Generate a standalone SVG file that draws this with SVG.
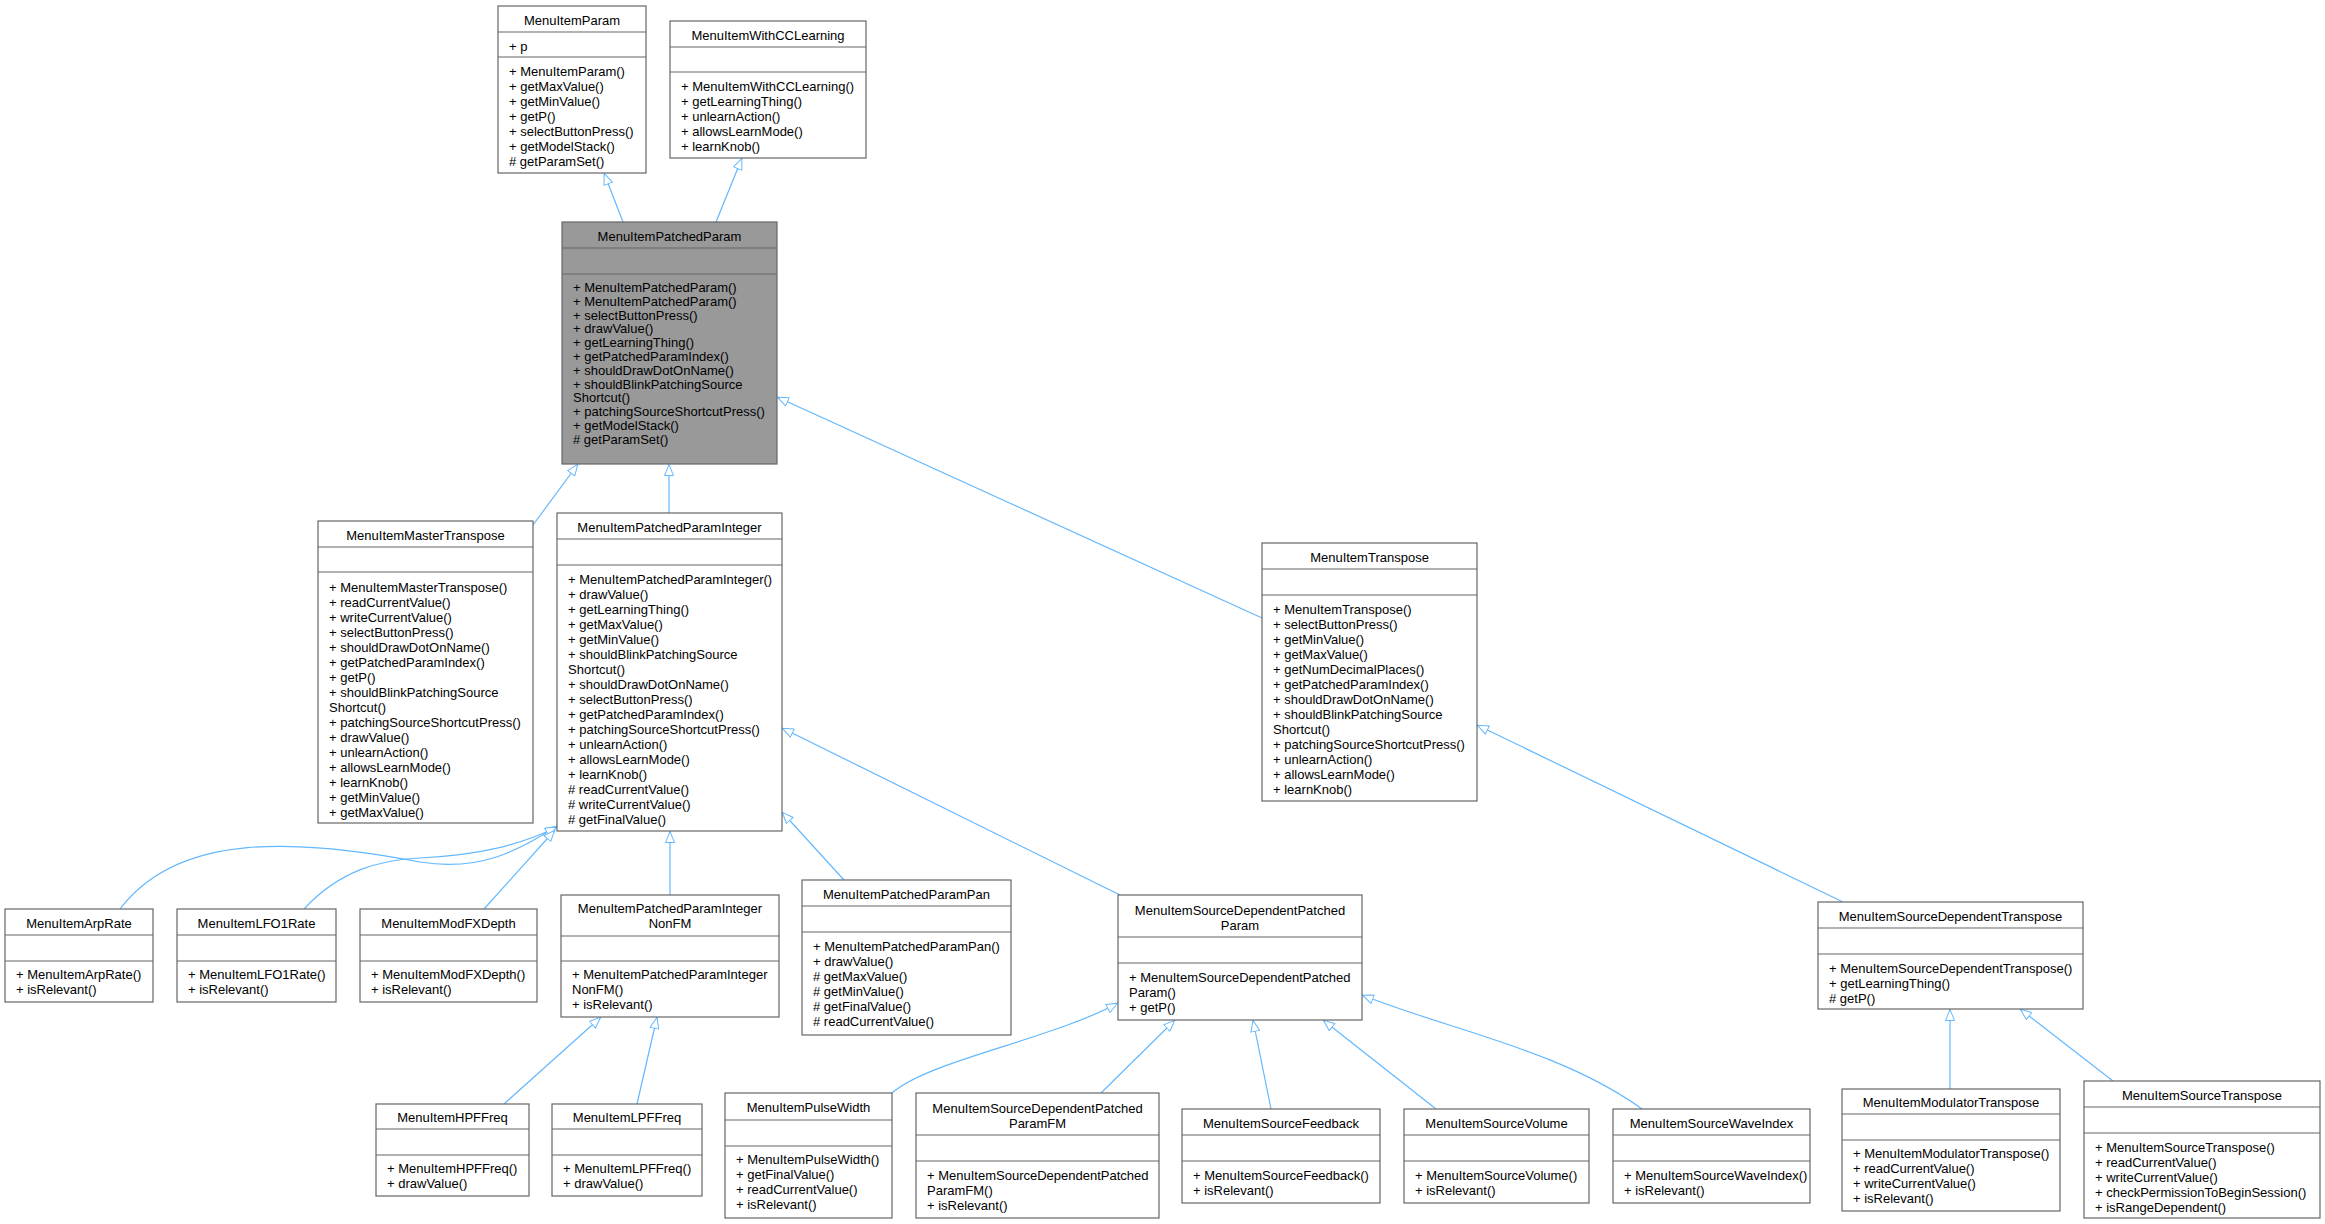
<svg xmlns="http://www.w3.org/2000/svg" width="2325" height="1224" viewBox="0 0 2325 1224">
<style>
text{font-family:"Liberation Sans",Arial,sans-serif;font-size:13px;fill:#000}
.h{text-anchor:middle}
.b{fill:#fff;stroke:#666;stroke-width:1.2}
.g{fill:#999;stroke:#666;stroke-width:1.2}
.l{stroke:#666;stroke-width:1.2}
.e{fill:none;stroke:#63b8ff;stroke-width:1.2;marker-end:url(#a)}
</style>
<defs>
<marker id="a" viewBox="0 0 12 10" refX="12" refY="5" markerWidth="12" markerHeight="10" markerUnits="userSpaceOnUse" orient="auto">
<path d="M0.5,0.5 L11.5,5 L0.5,9.5 Z" fill="#fff" stroke="#63b8ff" stroke-width="1"/>
</marker>
</defs>
<rect width="2325" height="1224" fill="#fff"/>
<g id="connectors">
<path class="e" d="M623,222 L604,173"/>
<path class="e" d="M716,222 L742,158"/>
<path class="e" d="M533,525 L578,464"/>
<path class="e" d="M669,513 L669,464"/>
<path class="e" d="M1262,618 L777,397"/>
<path class="e" d="M120,909 C180,830 300,840 420,862 C480,872 520,850 557,826"/>
<path class="e" d="M304,909 C340,870 380,860 420,858 C480,855 520,845 557,827"/>
<path class="e" d="M484,909 L555,830"/>
<path class="e" d="M670,895 L670,831"/>
<path class="e" d="M844,880 L782,812"/>
<path class="e" d="M1120,895 L782,728"/>
<path class="e" d="M1843,902 L1477,725"/>
<path class="e" d="M504,1104 L601,1017"/>
<path class="e" d="M637,1104 L657,1017"/>
<path class="e" d="M892,1093 C930,1060 1050,1040 1118,1003"/>
<path class="e" d="M1101,1093 L1175,1020"/>
<path class="e" d="M1271,1109 L1253,1020"/>
<path class="e" d="M1436,1109 L1323,1020"/>
<path class="e" d="M1642,1109 C1560,1050 1450,1030 1362,995"/>
<path class="e" d="M1950,1089 L1950,1009"/>
<path class="e" d="M2113,1081 L2020,1009"/>
</g>
<g id="MenuItemParam">
<rect class="b" x="498" y="6" width="148" height="167"/>
<line class="l" x1="498" y1="32" x2="646" y2="32"/><line class="l" x1="498" y1="57" x2="646" y2="57"/>
<text class="h" x="572" y="25">MenuItemParam</text>
<text x="509" y="51">+ p</text>
<text x="509" y="76">+ MenuItemParam()</text><text x="509" y="91">+ getMaxValue()</text><text x="509" y="106">+ getMinValue()</text><text x="509" y="121">+ getP()</text><text x="509" y="136">+ selectButtonPress()</text><text x="509" y="151">+ getModelStack()</text><text x="509" y="166"># getParamSet()</text>
</g>
<g id="MenuItemWithCCLearning">
<rect class="b" x="670" y="21" width="196" height="137"/>
<line class="l" x1="670" y1="47" x2="866" y2="47"/><line class="l" x1="670" y1="72" x2="866" y2="72"/>
<text class="h" x="768" y="40">MenuItemWithCCLearning</text>
<text x="681" y="91">+ MenuItemWithCCLearning()</text><text x="681" y="106">+ getLearningThing()</text><text x="681" y="121">+ unlearnAction()</text><text x="681" y="136">+ allowsLearnMode()</text><text x="681" y="151">+ learnKnob()</text>
</g>
<g id="MenuItemPatchedParam">
<rect class="g" x="562" y="222" width="215" height="242"/>
<line class="l" x1="562" y1="248" x2="777" y2="248"/><line class="l" x1="562" y1="274" x2="777" y2="274"/>
<text class="h" x="669.5" y="241">MenuItemPatchedParam</text>
<text x="573" y="292">+ MenuItemPatchedParam()</text><text x="573" y="305.8">+ MenuItemPatchedParam()</text><text x="573" y="319.6">+ selectButtonPress()</text><text x="573" y="333.4">+ drawValue()</text><text x="573" y="347.2">+ getLearningThing()</text><text x="573" y="361">+ getPatchedParamIndex()</text><text x="573" y="374.8">+ shouldDrawDotOnName()</text><text x="573" y="388.6">+ shouldBlinkPatchingSource</text><text x="573" y="402.4">Shortcut()</text><text x="573" y="416.2">+ patchingSourceShortcutPress()</text><text x="573" y="430">+ getModelStack()</text><text x="573" y="443.8"># getParamSet()</text>
</g>
<g id="MenuItemMasterTranspose">
<rect class="b" x="318" y="521" width="215" height="302"/>
<line class="l" x1="318" y1="547" x2="533" y2="547"/><line class="l" x1="318" y1="572" x2="533" y2="572"/>
<text class="h" x="425.5" y="540">MenuItemMasterTranspose</text>
<text x="329" y="591.5">+ MenuItemMasterTranspose()</text><text x="329" y="606.5">+ readCurrentValue()</text><text x="329" y="621.5">+ writeCurrentValue()</text><text x="329" y="636.5">+ selectButtonPress()</text><text x="329" y="651.5">+ shouldDrawDotOnName()</text><text x="329" y="666.5">+ getPatchedParamIndex()</text><text x="329" y="681.5">+ getP()</text><text x="329" y="696.5">+ shouldBlinkPatchingSource</text><text x="329" y="711.5">Shortcut()</text><text x="329" y="726.5">+ patchingSourceShortcutPress()</text><text x="329" y="741.5">+ drawValue()</text><text x="329" y="756.5">+ unlearnAction()</text><text x="329" y="771.5">+ allowsLearnMode()</text><text x="329" y="786.5">+ learnKnob()</text><text x="329" y="801.5">+ getMinValue()</text><text x="329" y="816.5">+ getMaxValue()</text>
</g>
<g id="MenuItemPatchedParamInteger">
<rect class="b" x="557" y="513" width="225" height="318"/>
<line class="l" x1="557" y1="539" x2="782" y2="539"/><line class="l" x1="557" y1="565" x2="782" y2="565"/>
<text class="h" x="669.5" y="532">MenuItemPatchedParamInteger</text>
<text x="568" y="583.5">+ MenuItemPatchedParamInteger()</text><text x="568" y="598.5">+ drawValue()</text><text x="568" y="613.5">+ getLearningThing()</text><text x="568" y="628.5">+ getMaxValue()</text><text x="568" y="643.5">+ getMinValue()</text><text x="568" y="658.5">+ shouldBlinkPatchingSource</text><text x="568" y="673.5">Shortcut()</text><text x="568" y="688.5">+ shouldDrawDotOnName()</text><text x="568" y="703.5">+ selectButtonPress()</text><text x="568" y="718.5">+ getPatchedParamIndex()</text><text x="568" y="733.5">+ patchingSourceShortcutPress()</text><text x="568" y="748.5">+ unlearnAction()</text><text x="568" y="763.5">+ allowsLearnMode()</text><text x="568" y="778.5">+ learnKnob()</text><text x="568" y="793.5"># readCurrentValue()</text><text x="568" y="808.5"># writeCurrentValue()</text><text x="568" y="823.5"># getFinalValue()</text>
</g>
<g id="MenuItemTranspose">
<rect class="b" x="1262" y="543" width="215" height="258"/>
<line class="l" x1="1262" y1="569" x2="1477" y2="569"/><line class="l" x1="1262" y1="595" x2="1477" y2="595"/>
<text class="h" x="1369.5" y="562">MenuItemTranspose</text>
<text x="1273" y="613.5">+ MenuItemTranspose()</text><text x="1273" y="628.5">+ selectButtonPress()</text><text x="1273" y="643.5">+ getMinValue()</text><text x="1273" y="658.5">+ getMaxValue()</text><text x="1273" y="673.5">+ getNumDecimalPlaces()</text><text x="1273" y="688.5">+ getPatchedParamIndex()</text><text x="1273" y="703.5">+ shouldDrawDotOnName()</text><text x="1273" y="718.5">+ shouldBlinkPatchingSource</text><text x="1273" y="733.5">Shortcut()</text><text x="1273" y="748.5">+ patchingSourceShortcutPress()</text><text x="1273" y="763.5">+ unlearnAction()</text><text x="1273" y="778.5">+ allowsLearnMode()</text><text x="1273" y="793.5">+ learnKnob()</text>
</g>
<g id="MenuItemArpRate">
<rect class="b" x="5" y="909" width="148" height="93"/>
<line class="l" x1="5" y1="935" x2="153" y2="935"/><line class="l" x1="5" y1="961" x2="153" y2="961"/>
<text class="h" x="79" y="928">MenuItemArpRate</text>
<text x="16" y="979">+ MenuItemArpRate()</text><text x="16" y="994">+ isRelevant()</text>
</g>
<g id="MenuItemLFO1Rate">
<rect class="b" x="177" y="909" width="159" height="93"/>
<line class="l" x1="177" y1="935" x2="336" y2="935"/><line class="l" x1="177" y1="961" x2="336" y2="961"/>
<text class="h" x="256.5" y="928">MenuItemLFO1Rate</text>
<text x="188" y="979">+ MenuItemLFO1Rate()</text><text x="188" y="994">+ isRelevant()</text>
</g>
<g id="MenuItemModFXDepth">
<rect class="b" x="360" y="909" width="177" height="93"/>
<line class="l" x1="360" y1="935" x2="537" y2="935"/><line class="l" x1="360" y1="961" x2="537" y2="961"/>
<text class="h" x="448.5" y="928">MenuItemModFXDepth</text>
<text x="371" y="979">+ MenuItemModFXDepth()</text><text x="371" y="994">+ isRelevant()</text>
</g>
<g id="MenuItemPatchedParamIntegerNonFM">
<rect class="b" x="561" y="895" width="218" height="122"/>
<line class="l" x1="561" y1="936" x2="779" y2="936"/><line class="l" x1="561" y1="961" x2="779" y2="961"/>
<text class="h" x="670" y="913">MenuItemPatchedParamInteger</text><text class="h" x="670" y="928">NonFM</text>
<text x="572" y="979">+ MenuItemPatchedParamInteger</text><text x="572" y="994">NonFM()</text><text x="572" y="1009">+ isRelevant()</text>
</g>
<g id="MenuItemPatchedParamPan">
<rect class="b" x="802" y="880" width="209" height="155"/>
<line class="l" x1="802" y1="906" x2="1011" y2="906"/><line class="l" x1="802" y1="932" x2="1011" y2="932"/>
<text class="h" x="906.5" y="899">MenuItemPatchedParamPan</text>
<text x="813" y="951">+ MenuItemPatchedParamPan()</text><text x="813" y="966">+ drawValue()</text><text x="813" y="981"># getMaxValue()</text><text x="813" y="996"># getMinValue()</text><text x="813" y="1011"># getFinalValue()</text><text x="813" y="1026"># readCurrentValue()</text>
</g>
<g id="MenuItemSourceDependentPatchedParam">
<rect class="b" x="1118" y="895" width="244" height="125"/>
<line class="l" x1="1118" y1="937" x2="1362" y2="937"/><line class="l" x1="1118" y1="963" x2="1362" y2="963"/>
<text class="h" x="1240" y="914.5">MenuItemSourceDependentPatched</text><text class="h" x="1240" y="929.5">Param</text>
<text x="1129" y="981.5">+ MenuItemSourceDependentPatched</text><text x="1129" y="996.5">Param()</text><text x="1129" y="1011.5">+ getP()</text>
</g>
<g id="MenuItemSourceDependentTranspose">
<rect class="b" x="1818" y="902" width="265" height="107"/>
<line class="l" x1="1818" y1="928" x2="2083" y2="928"/><line class="l" x1="1818" y1="954" x2="2083" y2="954"/>
<text class="h" x="1950.5" y="921">MenuItemSourceDependentTranspose</text>
<text x="1829" y="972.5">+ MenuItemSourceDependentTranspose()</text><text x="1829" y="987.5">+ getLearningThing()</text><text x="1829" y="1002.5"># getP()</text>
</g>
<g id="MenuItemHPFFreq">
<rect class="b" x="376" y="1104" width="153" height="92"/>
<line class="l" x1="376" y1="1129" x2="529" y2="1129"/><line class="l" x1="376" y1="1155" x2="529" y2="1155"/>
<text class="h" x="452.5" y="1122">MenuItemHPFFreq</text>
<text x="387" y="1173">+ MenuItemHPFFreq()</text><text x="387" y="1188">+ drawValue()</text>
</g>
<g id="MenuItemLPFFreq">
<rect class="b" x="552" y="1104" width="150" height="92"/>
<line class="l" x1="552" y1="1129" x2="702" y2="1129"/><line class="l" x1="552" y1="1155" x2="702" y2="1155"/>
<text class="h" x="627" y="1122">MenuItemLPFFreq</text>
<text x="563" y="1173">+ MenuItemLPFFreq()</text><text x="563" y="1188">+ drawValue()</text>
</g>
<g id="MenuItemPulseWidth">
<rect class="b" x="725" y="1093" width="167" height="125"/>
<line class="l" x1="725" y1="1120" x2="892" y2="1120"/><line class="l" x1="725" y1="1146" x2="892" y2="1146"/>
<text class="h" x="808.5" y="1112">MenuItemPulseWidth</text>
<text x="736" y="1164">+ MenuItemPulseWidth()</text><text x="736" y="1179">+ getFinalValue()</text><text x="736" y="1194">+ readCurrentValue()</text><text x="736" y="1209">+ isRelevant()</text>
</g>
<g id="MenuItemSourceDependentPatchedParamFM">
<rect class="b" x="916" y="1093" width="243" height="125"/>
<line class="l" x1="916" y1="1135" x2="1159" y2="1135"/><line class="l" x1="916" y1="1161" x2="1159" y2="1161"/>
<text class="h" x="1037.5" y="1112.5">MenuItemSourceDependentPatched</text><text class="h" x="1037.5" y="1127.5">ParamFM</text>
<text x="927" y="1179.5">+ MenuItemSourceDependentPatched</text><text x="927" y="1194.5">ParamFM()</text><text x="927" y="1209.5">+ isRelevant()</text>
</g>
<g id="MenuItemSourceFeedback">
<rect class="b" x="1182" y="1109" width="198" height="94"/>
<line class="l" x1="1182" y1="1135" x2="1380" y2="1135"/><line class="l" x1="1182" y1="1161" x2="1380" y2="1161"/>
<text class="h" x="1281" y="1128">MenuItemSourceFeedback</text>
<text x="1193" y="1179.5">+ MenuItemSourceFeedback()</text><text x="1193" y="1194.5">+ isRelevant()</text>
</g>
<g id="MenuItemSourceVolume">
<rect class="b" x="1404" y="1109" width="185" height="94"/>
<line class="l" x1="1404" y1="1135" x2="1589" y2="1135"/><line class="l" x1="1404" y1="1161" x2="1589" y2="1161"/>
<text class="h" x="1496.5" y="1128">MenuItemSourceVolume</text>
<text x="1415" y="1179.5">+ MenuItemSourceVolume()</text><text x="1415" y="1194.5">+ isRelevant()</text>
</g>
<g id="MenuItemSourceWaveIndex">
<rect class="b" x="1613" y="1109" width="197" height="94"/>
<line class="l" x1="1613" y1="1135" x2="1810" y2="1135"/><line class="l" x1="1613" y1="1161" x2="1810" y2="1161"/>
<text class="h" x="1711.5" y="1128">MenuItemSourceWaveIndex</text>
<text x="1624" y="1179.5">+ MenuItemSourceWaveIndex()</text><text x="1624" y="1194.5">+ isRelevant()</text>
</g>
<g id="MenuItemModulatorTranspose">
<rect class="b" x="1842" y="1089" width="218" height="122"/>
<line class="l" x1="1842" y1="1114" x2="2060" y2="1114"/><line class="l" x1="1842" y1="1140" x2="2060" y2="1140"/>
<text class="h" x="1951" y="1107">MenuItemModulatorTranspose</text>
<text x="1853" y="1158">+ MenuItemModulatorTranspose()</text><text x="1853" y="1173">+ readCurrentValue()</text><text x="1853" y="1188">+ writeCurrentValue()</text><text x="1853" y="1203">+ isRelevant()</text>
</g>
<g id="MenuItemSourceTranspose">
<rect class="b" x="2084" y="1081" width="236" height="137"/>
<line class="l" x1="2084" y1="1107" x2="2320" y2="1107"/><line class="l" x1="2084" y1="1133" x2="2320" y2="1133"/>
<text class="h" x="2202" y="1100">MenuItemSourceTranspose</text>
<text x="2095" y="1151.5">+ MenuItemSourceTranspose()</text><text x="2095" y="1166.5">+ readCurrentValue()</text><text x="2095" y="1181.5">+ writeCurrentValue()</text><text x="2095" y="1196.5">+ checkPermissionToBeginSession()</text><text x="2095" y="1211.5">+ isRangeDependent()</text>
</g>
</svg>
